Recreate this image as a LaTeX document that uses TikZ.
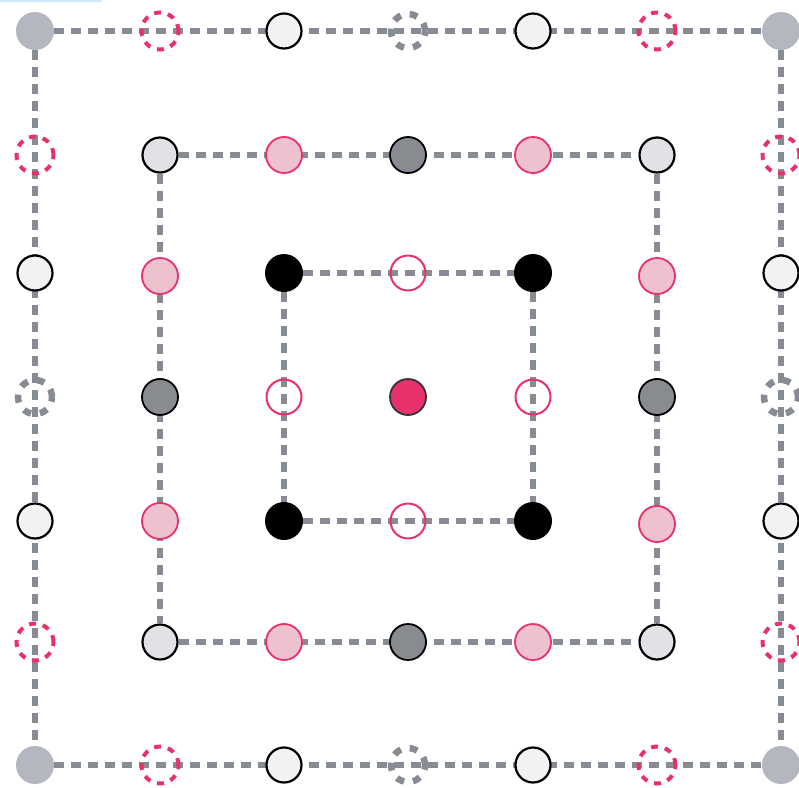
\documentclass[tikz,border=0pt]{standalone}
\begin{document}
\begin{tikzpicture}[x=1pt,y=-1pt,
  conn/.style={draw=lineg,line width=5.4pt,dash pattern=on 10pt off 7pt},
  cornerdot/.style={circle,fill=cornerg,minimum size=38pt,inner sep=0pt},
  whitedot/.style={circle,fill=whiteg,draw=black,line width=2.2pt,minimum size=35pt,inner sep=0pt},
  lightdot/.style={circle,fill=lightg,draw=black,line width=2.2pt,minimum size=35pt,inner sep=0pt},
  darkdot/.style={circle,fill=darkg,draw=black,line width=1.8pt,minimum size=36pt,inner sep=0pt},
  pinkdot/.style={circle,fill=pinkl,draw=pinkd,line width=1.8pt,minimum size=36pt,inner sep=0pt},
  blackdot/.style={circle,fill=black,minimum size=38pt,inner sep=0pt},
  opendot/.style={circle,draw=pinkd,line width=2pt,minimum size=35pt,inner sep=0pt},
  centerdot/.style={circle,fill=pinkd,draw=black!80,line width=1.8pt,minimum size=36pt,inner sep=0pt},
  pinkdash/.style={circle,draw=pinkd,line width=4pt,dash pattern=on 7pt off 7pt,minimum size=37pt,inner sep=0pt},
  graydash/.style={circle,draw=lineg,line width=6.5pt,dash pattern=on 8pt off 9pt,minimum size=34pt,inner sep=0pt}]
\definecolor{lineg}{HTML}{878B93}
\definecolor{cornerg}{HTML}{B4B7C0}
\definecolor{whiteg}{HTML}{F2F2F5}
\definecolor{lightg}{HTML}{E1E1E6}
\definecolor{darkg}{HTML}{888C91}
\definecolor{pinkl}{HTML}{EDC1CE}
\definecolor{pinkd}{HTML}{E8316A}
\definecolor{topblue}{HTML}{CDEBFA}
\useasboundingbox (0,0) rectangle (799,787);
\fill[topblue] (0,0) rectangle (102,2);
% outer ring corners
\node[cornerdot] (o11) at (35,31) {};
\node[cornerdot] (o17) at (781,31) {};
\node[cornerdot] (o71) at (35,765) {};
\node[cornerdot] (o77) at (781,765) {};
% middle ring corners
\node[lightdot] (m22) at (160,155) {};
\node[lightdot] (m26) at (657,155) {};
\node[lightdot] (m62) at (160,642) {};
\node[lightdot] (m66) at (657,642) {};
% inner ring corners
\node[blackdot] (i33) at (284,273) {};
\node[blackdot] (i35) at (533,273) {};
\node[blackdot] (i53) at (284,521) {};
\node[blackdot] (i55) at (533,521) {};
% connectors
\path[conn] (o11) -- (o17);
\path[conn] (o71) -- (o77);
\path[conn] (o11) -- (o71);
\path[conn] (o17) -- (o77);
\path[conn] (m22) -- (m26);
\path[conn] (m62) -- (m66);
\path[conn] (m22) -- (m62);
\path[conn] (m26) -- (m66);
\path[conn] (i33) -- (i35);
\path[conn] (i53) -- (i55);
\path[conn] (i33) -- (i53);
\path[conn] (i35) -- (i55);
% outer ring top
\node[pinkdash] (o12) at (160,31) {};
\node[whitedot] (o13) at (284,31) {};
\node[graydash] (o14) at (408,31) {};
\node[whitedot] (o15) at (533,31) {};
\node[pinkdash] (o16) at (657,31) {};
% outer ring bottom
\node[pinkdash] (o72) at (160,765) {};
\node[whitedot] (o73) at (284,765) {};
\node[graydash] (o74) at (408,765) {};
\node[whitedot] (o75) at (533,765) {};
\node[pinkdash] (o76) at (657,765) {};
% outer ring left
\node[pinkdash] (o21) at (35,155) {};
\node[whitedot] (o31) at (35,273) {};
\node[graydash] (o41) at (35,397) {};
\node[whitedot] (o51) at (35,521) {};
\node[pinkdash] (o61) at (35,642) {};
% outer ring right
\node[pinkdash] (o27) at (781,155) {};
\node[whitedot] (o37) at (781,273) {};
\node[graydash] (o47) at (781,397) {};
\node[whitedot] (o57) at (781,521) {};
\node[pinkdash] (o67) at (781,642) {};
% middle ring
\node[pinkdot] (m23) at (284,155) {};
\node[darkdot] (m24) at (408,155) {};
\node[pinkdot] (m25) at (533,155) {};
\node[pinkdot] (m63) at (284,642) {};
\node[darkdot] (m64) at (408,642) {};
\node[pinkdot] (m65) at (533,642) {};
\node[pinkdot] (m32) at (160,276) {};
\node[darkdot] (m42) at (160,397) {};
\node[pinkdot] (m52) at (160,521) {};
\node[pinkdot] (m36) at (657,276) {};
\node[darkdot] (m46) at (657,397) {};
\node[pinkdot] (m56) at (657,524) {};
% inner ring
\node[opendot] (i34) at (408,273) {};
\node[opendot] (i54) at (408,521) {};
\node[opendot] (i43) at (284,397) {};
\node[opendot] (i45) at (533,397) {};
\node[centerdot] (c) at (408,397) {};
\end{tikzpicture}
\end{document}
